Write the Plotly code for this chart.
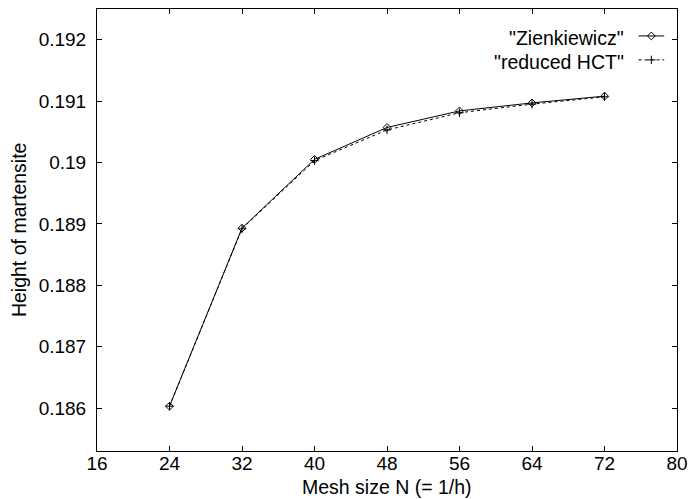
import plotly.graph_objects as go

# ---- data ----
mesh_n = [24, 32, 40, 48, 56, 64, 72]
zienkiewicz = [0.18603, 0.18893, 0.19005, 0.19057, 0.19084, 0.19097, 0.19108]
reduced_hct = [0.18603, 0.18892, 0.19003, 0.19053, 0.19081, 0.19095, 0.19107]

x_ticks = [16, 24, 32, 40, 48, 56, 64, 72, 80]
y_ticks = [0.186, 0.187, 0.188, 0.189, 0.190, 0.191, 0.192]
y_tick_text = ["0.186", "0.187", "0.188", "0.189", "0.19", "0.191", "0.192"]

series_names = ['"Zienkiewicz"', '"reduced HCT"']

FONT = "Liberation Sans, Arial, Helvetica, sans-serif"
FS = 19
FS_T = 19.5

W, H = 696, 499
L, R, T, B = 97, 11, 8, 48
PW, PH = W - L - R, H - T - B

MK = 6

fig = go.Figure()

fig.add_trace(go.Scatter(
    x=mesh_n, y=zienkiewicz, mode="lines+markers", name=series_names[0],
    line=dict(color="black", width=1),
    marker=dict(symbol="diamond-open", size=MK, color="black", line=dict(width=1, color="black")),
    showlegend=False))
fig.add_trace(go.Scatter(
    x=mesh_n, y=reduced_hct, mode="lines+markers", name=series_names[1],
    line=dict(color="black", width=1, dash="3px,3px"),
    marker=dict(symbol="cross-thin-open", size=MK, color="black", line=dict(width=1, color="black")),
    showlegend=False))

# legend samples on an overlay axis measured in plot pixels
leg_y = [27, 51]
leg_line_x = [549, 575]
leg_mark_x = [562]
fig.add_trace(go.Scatter(
    x=leg_line_x, y=[leg_y[0]] * 2, mode="lines", xaxis="x2", yaxis="y2",
    line=dict(color="black", width=1), showlegend=False, hoverinfo="skip"))
fig.add_trace(go.Scatter(
    x=leg_mark_x, y=[leg_y[0]], mode="markers", xaxis="x2", yaxis="y2",
    marker=dict(symbol="diamond-open", size=MK, color="black", line=dict(width=1, color="black")),
    showlegend=False, hoverinfo="skip"))
fig.add_trace(go.Scatter(
    x=leg_line_x, y=[leg_y[1]] * 2, mode="lines", xaxis="x2", yaxis="y2",
    line=dict(color="black", width=1, dash="3px,3px"), showlegend=False, hoverinfo="skip"))
fig.add_trace(go.Scatter(
    x=leg_mark_x, y=[leg_y[1]], mode="markers", xaxis="x2", yaxis="y2",
    marker=dict(symbol="cross-thin-open", size=MK, color="black", line=dict(width=1, color="black")),
    showlegend=False, hoverinfo="skip"))

axis_common = dict(
    showline=True, linecolor="black", linewidth=1, mirror="allticks",
    ticks="inside", ticklen=5, tickcolor="black", tickwidth=1,
    showgrid=False, zeroline=False,
    tickfont=dict(family=FONT, size=FS, color="black"),
)

fig.update_layout(
    width=W, height=H,
    margin=dict(l=L, r=R, t=T, b=B),
    paper_bgcolor="white", plot_bgcolor="white",
    font=dict(family=FONT, size=FS, color="black"),
    xaxis=dict(range=[16, 80], tickvals=x_ticks, ticklabelstandoff=-5, **axis_common),
    yaxis=dict(range=[0.1853, 0.1925], tickvals=y_ticks, ticktext=y_tick_text,
               ticklabelstandoff=6, **axis_common),
    xaxis2=dict(overlaying="x", range=[0, PW], visible=False),
    yaxis2=dict(overlaying="y", range=[PH, 0], visible=False),
    annotations=[
        dict(text="Mesh size N (= 1/h)", xref="paper", yref="paper",
             x=0.5, y=-(487 - (T + PH)) / PH, xanchor="center", yanchor="middle",
             showarrow=False, font=dict(family=FONT, size=FS_T)),
        dict(text="Height of martensite", xref="paper", yref="paper",
             x=-(L - 18) / PW, y=0.5, xanchor="center", yanchor="middle", textangle=-90,
             showarrow=False, font=dict(family=FONT, size=FS_T)),
        dict(text=series_names[0], xref="x2", yref="y2", x=633 - L, y=leg_y[0] + 2,
             xanchor="right", yanchor="middle", showarrow=False,
             font=dict(family=FONT, size=FS_T)),
        dict(text=series_names[1], xref="x2", yref="y2", x=633 - L, y=leg_y[1] + 2,
             xanchor="right", yanchor="middle", showarrow=False,
             font=dict(family=FONT, size=FS_T)),
    ],
)

fig.write_html("out.html")
